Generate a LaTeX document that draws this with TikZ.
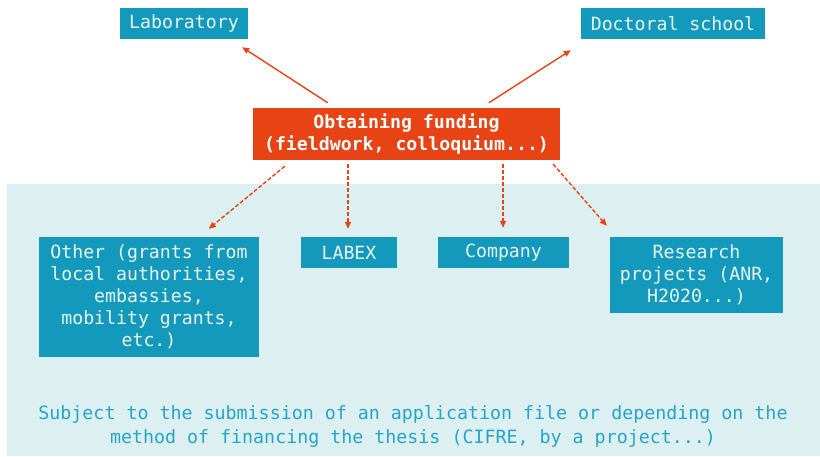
\documentclass[tikz,border=0pt]{standalone}
\usepackage{fontspec}
\setmonofont{DejaVu Sans Mono}
\usetikzlibrary{calc,arrows.meta}
\definecolor{boxblue}{HTML}{1399BC}
\definecolor{boxtext}{HTML}{E8F5F8}
\definecolor{fundred}{HTML}{E84315}
\definecolor{bandbg}{HTML}{DCF0F2}
\definecolor{notetext}{HTML}{25A5C8}
\tikzset{
  bluebox/.style={fill=boxblue, text=boxtext, inner sep=0pt, align=center,
    font=\ttfamily\fontsize{18.2}{22}\selectfont},
  fundbox/.style={fill=fundred, text=white, inner sep=0pt, align=center,
    font=\ttfamily\bfseries\fontsize{18.2}{22}\selectfont},
  conn/.style={draw=fundred, line width=1.4pt, -{Triangle[length=7pt,width=6pt]}},
  dconn/.style={conn, dash pattern=on 4pt off 2pt},
  note/.style={text=notetext, align=center, inner sep=0pt,
    font=\ttfamily\fontsize{18.3}{24}\selectfont}
}
\begin{document}
\begin{tikzpicture}[x=1pt,y=-1pt]
  \useasboundingbox (0,0) rectangle (820,456);
  % light band behind the funding sources
  \fill[bandbg] (7,184) rectangle (820,456);

  \node[bluebox, minimum width=128pt, minimum height=31pt] (lab) at (184,23.5) {Laboratory};
  \node[bluebox, minimum width=184pt, minimum height=31pt] (doc) at (673,23.5) {Doctoral school};
  \node[fundbox, minimum width=307pt, minimum height=52pt] (fund) at (406.5,134)
    {Obtaining funding\\(fieldwork, colloquium...)};

  \node[bluebox, minimum width=220pt, minimum height=120pt] (other) at (149,297)
    {Other (grants from\\local authorities,\\embassies,\\mobility grants,\\etc.)};
  \node[bluebox, minimum width=96pt, minimum height=31pt] (labex) at (349,252.5) {LABEX};
  \node[bluebox, minimum width=131pt, minimum height=31pt] (comp) at (503.5,252.5) {Company};
  \node[bluebox, minimum width=173pt, minimum height=76pt] (res) at (696.5,275)
    {Research\\projects (ANR,\\H2020...)};

  \node[note] (cond) at (413,426)
    {Subject to the submission of an application file or depending on the\\method of financing the thesis (CIFRE, by a project...)};

  % solid connectors to the top boxes
  \draw[conn] ($(fund.north west)+(75,-5)$) -- ($(lab.south east)+(-6,8)$);
  \draw[conn] ($(fund.north west)+(236,-5)$) -- ($(doc.south west)+(-10,11)$);

  % dashed connectors to the funding sources
  \draw[dconn] ($(fund.south west)+(32,6)$) -- ($(other.north west)+(170,-8)$);
  \draw[dconn] ($(labex.north |- fund.south)+(-1,4)$) -- ($(labex.north)+(-1,-8)$);
  \draw[dconn] ($(comp.north |- fund.south)+(-0.5,4)$) -- ($(comp.north)+(-0.5,-9)$);
  \draw[dconn] ($(fund.south east)+(-7,4)$) -- ($(res.north west)+(-3,-11)$);
\end{tikzpicture}
\end{document}
